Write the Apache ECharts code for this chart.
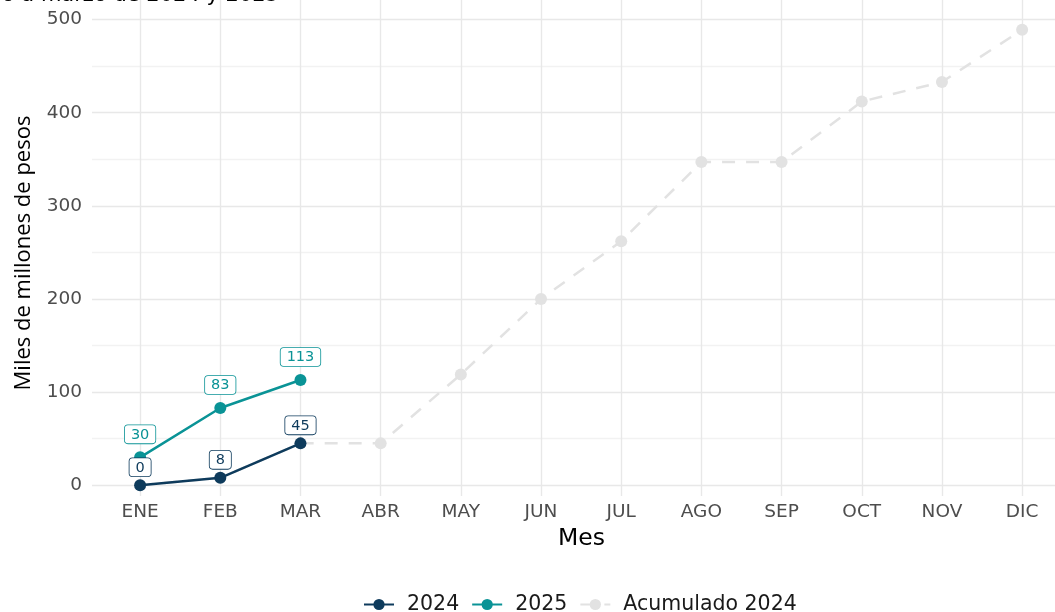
<!DOCTYPE html>
<html>
<head>
<meta charset="utf-8">
<script src="https://cdn.jsdelivr.net/npm/echarts@6/dist/echarts.min.js"></script>
<style>
html,body{margin:0;padding:0;background:#fff;}
#chart{width:1055px;height:612px;}
</style>
</head>
<body>
<div id="chart"></div>
<script>
var months = ['ENE','FEB','MAR','ABR','MAY','JUN','JUL','AGO','SEP','OCT','NOV','DIC'];
var values2024 = [0, 8, 45];
var values2025 = [30, 83, 113];
var acumulado2024 = [0, 8, 45, 45, 119, 200, 262, 347, 347, 412, 433, 489];
var yTickLabels = [0, 100, 200, 300, 400, 500];
var yGridValues = [0, 50, 100, 150, 200, 250, 300, 350, 400, 450, 500];
var xPositions = months.map(function (m, i) { return i; });

var FONT = 'DejaVu Sans';
var C2024 = '#0e3b5c';
var C2025 = '#0a9396';
var CACU = '#e2e2e2';

function toPoints(arr) { return arr.map(function (v, i) { return [i, v]; }); }

function labelCfg(color, dist) {
  return {
    show: true, position: 'top', distance: dist,
    formatter: function (p) { return p.value[1]; },
    color: color, fontFamily: FONT, fontSize: 14.5,
    backgroundColor: '#ffffff', borderColor: color, borderWidth: 0.8,
    borderRadius: 3, padding: [2, 6, 1, 6]
  };
}

var chart = echarts.init(document.getElementById('chart'), null, {renderer: 'canvas'});
chart.setOption({
  animation: false,
  backgroundColor: '#ffffff',
  textStyle: {fontFamily: FONT},
  graphic: [{
    type: 'text', x: 279, y: 6.5, z: 100,
    style: {text: 'enero a marzo de 2024 y 2025', fontFamily: FONT, fontSize: 21, fill: '#000', textAlign: 'right', textVerticalAlign: 'bottom'}
  }],
  grid: {left: 92, top: 0, right: 0, height: 496, containLabel: false},
  legend: {
    data: ['2024', '2025', 'Acumulado 2024'],
    left: 358, top: 589, itemWidth: 30, itemHeight: 14, itemGap: 12,
    textStyle: {fontFamily: FONT, fontSize: 20.5, color: '#1a1a1a', padding: [0, 0, 0, 8]}
  },
  xAxis: {
    type: 'value', min: -0.6, max: 11.41,
    name: 'Mes', nameLocation: 'middle', nameGap: 30,
    nameTextStyle: {fontFamily: FONT, fontSize: 23.5, color: '#000', padding: [0, 0, 0, 16]},
    axisLine: {show: false},
    axisTick: {show: false, customValues: xPositions},
    axisLabel: {customValues: xPositions, formatter: function (v) { return months[Math.round(v)]; },
      fontFamily: FONT, fontSize: 18.5, color: '#4d4d4d', margin: 7},
    splitLine: {show: true, lineStyle: {color: '#e8e8e8', width: 1.4}}
  },
  yAxis: {
    type: 'value', min: -11.5, max: 521,
    name: 'Miles de millones de pesos', nameLocation: 'middle', nameGap: 57, nameRotate: 90,
    nameTextStyle: {fontFamily: 'Open Sans', fontSize: 22, color: '#000', padding: [0, 10, 0, 0]},
    axisLine: {show: false},
    axisTick: {show: false, customValues: yGridValues},
    axisLabel: {customValues: yTickLabels, fontFamily: FONT, fontSize: 18.5, color: '#4d4d4d', margin: 10},
    splitLine: {show: true, lineStyle: {color: ['#e8e8e8', '#f2f2f2'], width: 1.4}}
  },
  series: [
    {
      name: 'Acumulado 2024', type: 'line', data: toPoints(acumulado2024),
      symbol: 'circle', symbolSize: 12, z: 1,
      itemStyle: {color: CACU},
      lineStyle: {color: CACU, width: 2.5, type: [13, 11]}
    },
    {
      name: '2024', type: 'line', data: toPoints(values2024),
      symbol: 'circle', symbolSize: 12, z: 3,
      itemStyle: {color: C2024},
      lineStyle: {color: C2024, width: 2.5},
      label: labelCfg(C2024, 3)
    },
    {
      name: '2025', type: 'line', data: toPoints(values2025),
      symbol: 'circle', symbolSize: 12, z: 3,
      itemStyle: {color: C2025},
      lineStyle: {color: C2025, width: 2.5},
      label: labelCfg(C2025, 8)
    }
  ]
});
</script>
</body>
</html>
